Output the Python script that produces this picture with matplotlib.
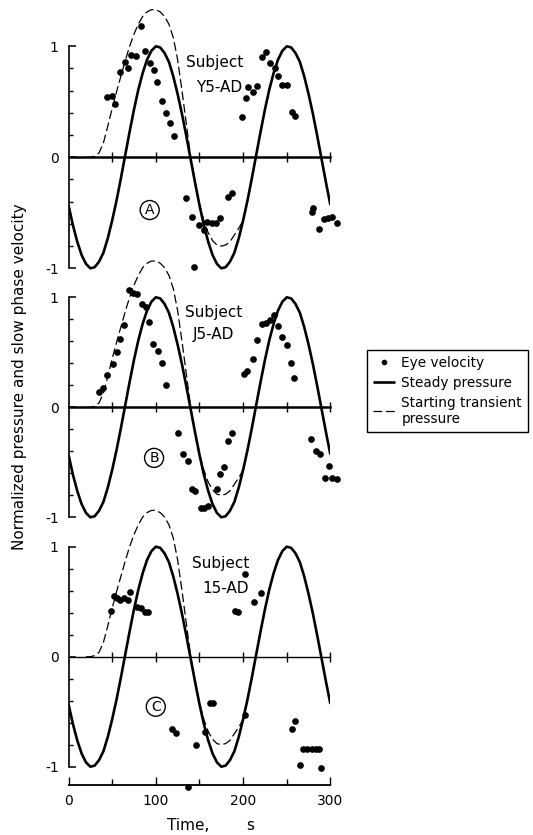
import matplotlib
matplotlib.use('Agg')
import matplotlib.pyplot as plt


# ---- values ----
time_s = list(range(0, 305, 5))
steady = [-0.43, -0.61, -0.76, -0.88, -0.96, -1.0, -0.99, -0.94, -0.86, -0.73,
          -0.57, -0.39, -0.19, 0.02, 0.23, 0.43, 0.61, 0.76, 0.88, 0.96,
          1.0, 0.99, 0.94, 0.86, 0.73, 0.57, 0.39, 0.19, -0.02, -0.23,
          -0.43, -0.61, -0.76, -0.88, -0.96, -1.0, -0.99, -0.94, -0.86, -0.73,
          -0.57, -0.39, -0.19, 0.02, 0.23, 0.43, 0.61, 0.76, 0.88, 0.96,
          1.0, 0.99, 0.94, 0.86, 0.73, 0.57, 0.39, 0.19, -0.02, -0.23,
          -0.43]

transient_t = list(range(20, 205, 5))
transient = [0.0, 0.0, 0.01, 0.04, 0.13, 0.28, 0.44, 0.59, 0.73, 0.87,
             1.0, 1.11, 1.2, 1.27, 1.31, 1.33, 1.33, 1.31, 1.27, 1.2,
             1.08, 0.88, 0.6, 0.3, 0.0, -0.22, -0.42, -0.57, -0.68, -0.75,
             -0.79, -0.8, -0.79, -0.76, -0.7, -0.64, -0.57]

eye_t_A = [44.5, 49.5, 53.3, 58.6, 64.7, 68.5, 71.6, 77.3, 82.7, 87.6, 93, 97.6,
           101, 106.8, 111.3, 116.3, 120.8, 135, 141, 144, 149.5, 155, 159,
           164.5, 169, 173.5, 183, 187.6, 198.4, 203, 206, 211.7, 216.3, 221.3,
           226.2, 230.8, 236.5, 240.3, 245, 250, 255.6, 259.4, 278.6, 280.4,
           287, 293, 297.6, 302, 307]
eye_v_A = [0.54, 0.555, 0.48, 0.77, 0.86, 0.80, 0.92, 0.91, 1.18, 0.955, 0.85, 0.79,
           0.68, 0.51, 0.40, 0.31, 0.19, -0.37, -0.54, -0.985, -0.61, -0.655, -0.58,
           -0.59, -0.59, -0.55, -0.355, -0.32, 0.36, 0.53, 0.63, 0.59, 0.64, 0.90,
           0.95, 0.85, 0.80, 0.73, 0.65, 0.65, 0.41, 0.37, -0.49, -0.46,
           -0.65, -0.56, -0.55, -0.535, -0.595]

eye_t_B = [35.3, 39.9, 44.5, 50.6, 55.2, 59, 63.6, 69.3, 74.2, 78.1, 83.8, 88.4,
           92.6, 97.2, 102.2, 107.4, 111.3, 125.8, 130.8, 136.5, 141.1, 144.9,
           151.8, 155.6, 160.1, 169.8, 173.5, 178.5, 183, 187.6, 201.4, 204, 211,
           216.3, 221.3, 225.8, 230.8, 235.8, 239.6, 245, 250, 254.9, 258.7,
           277.8, 283.2, 288, 293.8, 298.4, 302.2, 307.2]
eye_v_B = [0.14, 0.18, 0.29, 0.39, 0.505, 0.62, 0.75, 1.07, 1.04, 1.03, 0.94, 0.915,
           0.78, 0.58, 0.51, 0.405, 0.20, -0.235, -0.42, -0.485, -0.745, -0.765,
           -0.92, -0.92, -0.90, -0.745, -0.61, -0.54, -0.31, -0.235, 0.30, 0.33, 0.44,
           0.61, 0.76, 0.77, 0.79, 0.84, 0.74, 0.64, 0.57, 0.405, 0.27,
           -0.29, -0.40, -0.425, -0.64, -0.53, -0.64, -0.655]

eye_t_C = [48.7, 52.5, 55.2, 59, 63.9, 68.5, 70.4, 78.1, 83, 87.6, 90.7, 118.9,
           123.1, 137.3, 145.7, 156, 162, 165.5, 190.7, 194.5, 202, 202, 212.8,
           220.5, 255.6, 259.4, 265, 269, 273.5, 278.6, 283, 287, 289]
eye_v_C = [0.42, 0.55, 0.53, 0.52, 0.53, 0.515, 0.59, 0.455, 0.44, 0.41, 0.41, -0.66,
           -0.69, -1.18, -0.80, -0.68, -0.42, -0.42, 0.42, 0.41, 0.75, -0.53, 0.50,
           0.58, -0.66, -0.585, -0.985, -0.84, -0.84, -0.84, -0.84, -0.84, -1.015]

subjects = ['Y5-AD', 'J5-AD', '15-AD']
panel_tags = ['A', 'B', 'C']
eye_t = [eye_t_A, eye_t_B, eye_t_C]
eye_v = [eye_v_A, eye_v_B, eye_v_C]

y_ticks = [-1, 0, 1]
y_tick_labels = ['-1', '0', '1']
y_minor = [-0.8, -0.6, -0.4, -0.2, 0.2, 0.4, 0.6, 0.8]
x_ticks = [0, 100, 200, 300]
x_tick_labels = ['0', '100', '200', '300']
x_minor = [50, 150, 250]

# ---- layout (pixels of the 533x835 picture) ----
W, H = 533, 835
x0_px, x300_px = 68.5, 330.4
zero_px = [157.3, 407.3, 656.7]
unit_px = [111, 110, 110]
y_low = [-1.05, -1.05, -1.25]
y_high = 1.4
subj_pos = [(167, 0.85, 172, 0.63), (166, 0.86, 166, 0.66), (174, 0.85, 180, 0.62)]
tag_pos = [(93, -0.475), (98, -0.46), (100, -0.455)]

plt.rcParams['font.family'] = ['DejaVu Sans']
fig = plt.figure(figsize=(W / 100, H / 100), dpi=100)

handles = None
for i in range(3):
    top = zero_px[i] - y_high * unit_px[i]
    bot = zero_px[i] - y_low[i] * unit_px[i]
    ax = fig.add_axes([x0_px / W, 1 - bot / H, (x300_px - x0_px) / W, (bot - top) / H])
    ax.patch.set_visible(False)
    ax.set_xlim(0, 300)
    ax.set_ylim(y_low[i], y_high)

    l_st, = ax.plot(time_s, steady, color='black', lw=1.9, solid_capstyle='butt')
    l_tr, = ax.plot(transient_t, transient, color='black', lw=0.9, ls=(0, (7, 3)))
    l_eye, = ax.plot(eye_t[i], eye_v[i], 'o', color='black', ms=3.8, ls='none', clip_on=False)
    if handles is None:
        handles = [l_eye, l_st, l_tr]

    for s in ['top', 'right']:
        ax.spines[s].set_visible(False)
    ax.spines['left'].set_bounds(-1, 1)
    ax.spines['left'].set_linewidth(1.2)
    ax.spines['bottom'].set_position(('data', 0))
    ax.spines['bottom'].set_bounds(0, 300)
    ax.spines['bottom'].set_linewidth(1.8 if i < 2 else 1.0)

    ax.set_yticks(y_ticks)
    ax.set_yticklabels(y_tick_labels)
    ax.set_yticks(y_minor, minor=True)
    ax.tick_params(axis='y', which='major', direction='in', length=5, width=1.1,
                   labelsize=10, pad=7)
    ax.tick_params(axis='y', which='minor', direction='in', length=3, width=1)

    ax.set_xticks([50, 100, 150, 200, 250, 300])
    ax.set_xticklabels([])
    ax.tick_params(axis='x', which='major', direction='inout', length=7, width=1)

    a, b, c, d = subj_pos[i]
    ax.text(a, b, 'Subject', ha='center', va='center', fontsize=11)
    ax.text(c, d, subjects[i], ha='center', va='center', fontsize=11)
    ax.text(tag_pos[i][0], tag_pos[i][1], panel_tags[i], ha='center', va='center',
            fontsize=10,
            bbox=dict(boxstyle='circle,pad=0.18', fc='none', ec='black', lw=1))

    if i == 2:
        loc = (-1.17 - y_low[i]) / (y_high - y_low[i])
        sec = ax.secondary_xaxis(loc)
        sec.set_xticks(x_ticks)
        sec.set_xticklabels(x_tick_labels)
        sec.set_xticks(x_minor, minor=True)
        sec.tick_params(which='major', direction='in', length=6, width=1, labelsize=10, pad=6)
        sec.tick_params(which='minor', direction='in', length=4, width=1)
        sec.spines['bottom'].set_linewidth(1.3)

fig.text(20 / W, 1 - 377 / H, 'Normalized pressure and slow phase velocity',
         rotation=90, ha='center', va='center', fontsize=11)
fig.text(188 / W, 1 - 825 / H, 'Time,', ha='center', va='center', fontsize=11)
fig.text(250 / W, 1 - 825 / H, 's', ha='center', va='center', fontsize=11)

leg = fig.legend(handles, ['Eye velocity', 'Steady pressure', 'Starting transient\npressure'],
                 loc='upper left', bbox_to_anchor=(366.7 / W, 1 - 350 / H),
                 borderaxespad=0, fontsize=9.8, frameon=True, fancybox=False,
                 framealpha=1, edgecolor='black', handlelength=1.6, handletextpad=0.5,
                 labelspacing=0.42, borderpad=0.45, markerscale=0.8)
leg.get_frame().set_linewidth(1.0)

fig.savefig('out.png', dpi=100)
